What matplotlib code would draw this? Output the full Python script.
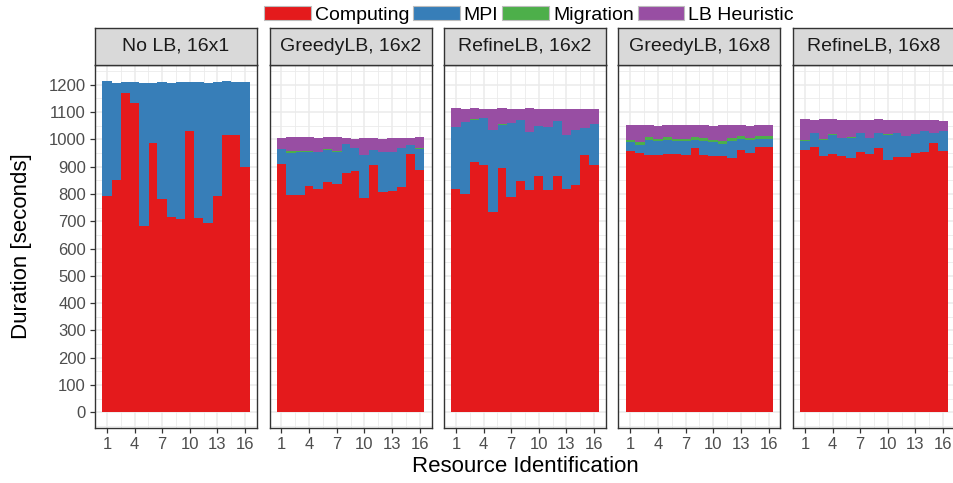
import numpy as np
import matplotlib
matplotlib.use("Agg")
import matplotlib.pyplot as plt
from matplotlib.patches import Patch

plt.rcParams['font.family'] = ['Liberation Sans', 'DejaVu Sans']

# Data (seconds per resource)
ranks = np.arange(1, 17)
panels = ["No LB, 16x1", "GreedyLB, 16x2", "RefineLB, 16x2", "GreedyLB, 16x8", "RefineLB, 16x8"]

computing = [
    [792, 851, 1168, 1132, 684, 985, 780, 715, 708, 1030, 712, 693, 792, 1015, 1015, 898],
    [911, 796, 796, 829, 818, 844, 836, 877, 884, 786, 906, 808, 811, 825, 947, 889],
    [818, 800, 917, 905, 734, 895, 789, 847, 815, 866, 815, 866, 818, 833, 942, 905],
    [957, 950, 943, 943, 947, 947, 943, 969, 943, 940, 940, 933, 962, 950, 972, 972],
    [962, 972, 940, 947, 940, 933, 955, 947, 969, 925, 935, 935, 950, 955, 986, 957],
]
mpi = [
    [421, 356, 41, 77, 522, 221, 429, 491, 501, 179, 497, 513, 417, 198, 194, 311],
    [53, 155, 159, 126, 136, 117, 119, 107, 85, 156, 56, 145, 142, 144, 32, 75],
    [227, 263, 154, 173, 301, 159, 271, 224, 213, 184, 230, 201, 198, 202, 101, 152],
    [33, 29, 56, 51, 52, 47, 51, 30, 52, 50, 44, 61, 39, 49, 29, 29],
    [32, 51, 59, 70, 66, 73, 68, 59, 54, 92, 88, 78, 70, 75, 37, 73],
]
migration = [
    [0] * 16,
    [0, 6, 3, 2, 0, 3, 2, 0, 0, 0, 0, 2, 2, 0, 0, 3],
    [0, 0, 3, 0, 0, 3, 0, 0, 0, 0, 0, 0, 0, 0, 0, 0],
    [9, 11, 9, 7, 9, 7, 7, 9, 10, 9, 10, 11, 11, 6, 11, 11],
    [3, 0, 2, 3, 0, 2, 0, 0, 0, 3, 0, 0, 0, 0, 0, 0],
]
heuristic = [
    [0] * 16,
    [41, 51, 50, 51, 51, 44, 51, 21, 32, 63, 43, 46, 50, 36, 26, 41],
    [70, 48, 41, 33, 76, 58, 51, 40, 87, 61, 66, 44, 95, 76, 68, 54],
    [53, 62, 44, 47, 44, 51, 51, 44, 47, 49, 58, 47, 40, 43, 40, 40],
    [77, 48, 73, 54, 65, 63, 48, 65, 51, 51, 48, 58, 51, 41, 48, 37],
]

states = ["Computing", "MPI", "Migration", "LB Heuristic"]
colors = ["#E41A1C", "#377EB8", "#4DAF4A", "#984EA3"]

W, H = 954, 483
fig = plt.figure(figsize=(W / 100, H / 100), dpi=100)

dark = "#333333"
grid_c = "#EBEBEB"

def px(x0, y0, w, h):
    # pixel box (from top-left) -> figure fraction
    return [x0 / W, 1 - (y0 + h) / H, w / W, h / H]

panel_w = 162
panel_top, panel_bot = 64.7, 427.7
strip_top = 28

for i, name in enumerate(panels):
    left = 95 + i * 174.5
    ax = fig.add_axes(px(left, panel_top, panel_w, panel_bot - panel_top))
    series = [computing[i], mpi[i], migration[i], heuristic[i]]
    bottom = np.zeros(16)
    for vals, c in zip(series, colors):
        vals = np.array(vals, dtype=float)
        # bars a touch wider than 1 so neighbours overlap and no seam shows
        ax.bar(ranks, vals, width=1.05, bottom=bottom, color=c, linewidth=0,
               zorder=2)
        bottom += vals

    ax.set_xlim(-0.3, 17.3)
    ax.set_ylim(-56, 1273)
    ax.set_xticks([1, 4, 7, 10, 13, 16])
    ax.set_xticks([2.5, 5.5, 8.5, 11.5, 14.5], minor=True)
    ax.set_yticks(np.arange(0, 1201, 100))
    ax.set_yticks(np.arange(-50, 1300, 100), minor=True)
    ax.grid(which="major", color=grid_c, linewidth=1.1, zorder=0)
    ax.grid(which="minor", color=grid_c, linewidth=0.6, zorder=0)
    ax.set_axisbelow(True)
    ax.tick_params(which="minor", length=0)
    ax.tick_params(axis="x", which="major", length=3.5, width=0.9, color=dark,
                   labelsize=12, labelcolor="#4D4D4D", pad=3)
    if i == 0:
        ax.tick_params(axis="y", which="major", length=3.5, width=0.9, color=dark,
                       labelsize=12, labelcolor="#4D4D4D", pad=3)
    else:
        ax.tick_params(axis="y", which="major", length=0, labelleft=False)
    for s in ax.spines.values():
        s.set_color(dark)
        s.set_linewidth(1.0)

    # facet strip
    sax = fig.add_axes(px(left, strip_top, panel_w, panel_top - strip_top))
    sax.set_facecolor("#D9D9D9")
    sax.set_xticks([])
    sax.set_yticks([])
    for s in sax.spines.values():
        s.set_color(dark)
        s.set_linewidth(1.0)
    sax.text(0.5, 0.5, name, ha="center", va="center", fontsize=14,
             color="#1A1A1A", transform=sax.transAxes)

fig.text(22 / W, 1 - 246 / H, "Duration [seconds]", rotation=90, ha="center",
         va="center", fontsize=16)
fig.text(525 / W, 1 - 467 / H, "Resource Identification", ha="center",
         va="center", fontsize=16)

handles = [Patch(facecolor=c, edgecolor="#BDBDBD", linewidth=0.8) for c in colors]
fig.legend(handles, states, loc="center", bbox_to_anchor=(529 / W, 1 - 15 / H),
           ncol=4, frameon=False, fontsize=14, handlelength=2.4, handleheight=0.72,
           handletextpad=0.2, columnspacing=0.2, borderpad=0, borderaxespad=0)

fig.savefig("out.png", dpi=100)
